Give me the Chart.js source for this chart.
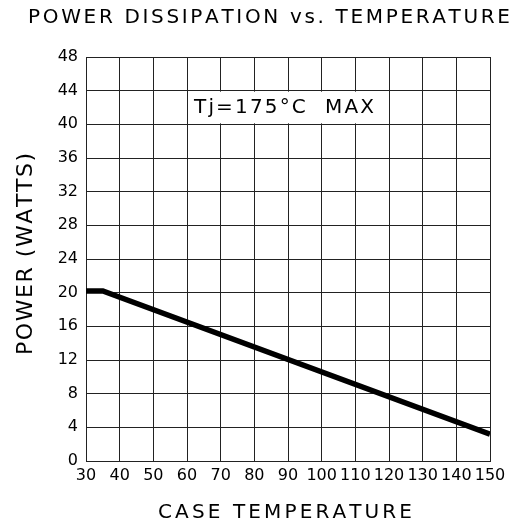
<!DOCTYPE html>
<html>
<head>
<meta charset="utf-8">
<script src="https://cdn.jsdelivr.net/npm/chart.js@4"></script>
<style>
  html, body { margin: 0; padding: 0; background: #fff; }
  #wrap { width: 525px; height: 523px; }
</style>
</head>
<body>
<div id="wrap"><canvas id="powerChart"></canvas></div>
<script>
// derating curve
var caseTemp = [30, 35, 150];
var powerWatts = [20.2, 20.2, 3.2];

var xTicks = [30, 40, 50, 60, 70, 80, 90, 100, 110, 120, 130, 140, 150];
var yTicks = [0, 4, 8, 12, 16, 20, 24, 28, 32, 36, 40, 44, 48];

var titleText = "POWER DISSIPATION vs. TEMPERATURE";
var xTitleText = "CASE TEMPERATURE";
var yTitleText = "POWER (WATTS)";
var noteText = "Tj=175°C  MAX";
var noteX = [60, 120];
var noteY = [40, 44];

var FONT = "'DejaVu Sans', sans-serif";

// draw text stretched to a given width by spreading the letters
function spacedText(ctx, text, cx, baseY, width) {
  var widths = [], total = 0;
  for (var i = 0; i < text.length; i++) {
    var w = ctx.measureText(text[i]).width;
    widths.push(w);
    total += w;
  }
  var gap = (width - total) / (text.length - 1);
  var x = cx - width / 2;
  ctx.textAlign = "left";
  ctx.textBaseline = "alphabetic";
  for (var j = 0; j < text.length; j++) {
    ctx.fillText(text[j], x, baseY);
    x += widths[j] + gap;
  }
}

var labelsPlugin = {
  id: "labels",
  beforeDatasetsDraw: function (chart) {
    // white box for the Tj note, sits between the grid lines
    var ctx = chart.ctx;
    var xs = chart.scales.x, ys = chart.scales.y;
    var l = xs.getPixelForValue(noteX[0]), r = xs.getPixelForValue(noteX[1]);
    var t = ys.getPixelForValue(noteY[1]), b = ys.getPixelForValue(noteY[0]);
    ctx.save();
    ctx.fillStyle = "#fff";
    ctx.fillRect(l + 1, t + 1, r - l - 2, b - t - 2);
    ctx.fillStyle = "#000";
    ctx.font = "20px " + FONT;
    spacedText(ctx, noteText, (l + r) / 2 - 4, b - 11, 180);
    ctx.restore();
  },
  afterDraw: function (chart) {
    var ctx = chart.ctx;
    ctx.save();
    ctx.fillStyle = "#000";
    ctx.font = "20px " + FONT;
    spacedText(ctx, titleText, 269, 23, 482);
    ctx.font = "20px " + FONT;
    spacedText(ctx, xTitleText, 285, 518, 254);
    ctx.translate(32, 254);
    ctx.rotate(-Math.PI / 2);
    ctx.font = "22px " + FONT;
    spacedText(ctx, yTitleText, 0, 0, 202);
    ctx.restore();
  }
};

var ctx = document.getElementById("powerChart").getContext("2d");
var powerChart = new Chart(ctx, {
  type: "line",
  data: {
    datasets: [
      {
        label: "Power",
        data: caseTemp.map(function (t, i) { return { x: t, y: powerWatts[i] }; }),
        borderColor: "#000",
        borderWidth: 5.5,
        pointRadius: 0,
        fill: false,
        tension: 0
      }
    ]
  },
  options: {
    responsive: true,
    maintainAspectRatio: false,
    animation: false,
    layout: { padding: { top: 57, right: 35, left: 0, bottom: 0 } },
    plugins: {
      legend: { display: false },
      tooltip: { enabled: false },
      title: { display: false }
    },
    scales: {
      x: {
        type: "linear",
        min: 30,
        max: 150,
        afterBuildTicks: function (s) { s.ticks = xTicks.map(function (v) { return { value: v }; }); },
        afterFit: function (s) { s.height = 62; },
        grid: { color: "#222", lineWidth: 1, drawTicks: false },
        border: { color: "#222", width: 1 },
        ticks: { color: "#000", font: { family: FONT, size: 16 }, padding: 5, maxRotation: 0, autoSkip: false }
      },
      y: {
        type: "linear",
        min: 0,
        max: 48,
        afterBuildTicks: function (s) { s.ticks = yTicks.map(function (v) { return { value: v }; }); },
        afterFit: function (s) { s.width = 86; },
        grid: { color: "#222", lineWidth: 1, drawTicks: false },
        border: { color: "#222", width: 1 },
        ticks: { color: "#000", font: { family: FONT, size: 16 }, padding: 8 }
      }
    }
  },
  plugins: [labelsPlugin]
});
</script>
</body>
</html>
